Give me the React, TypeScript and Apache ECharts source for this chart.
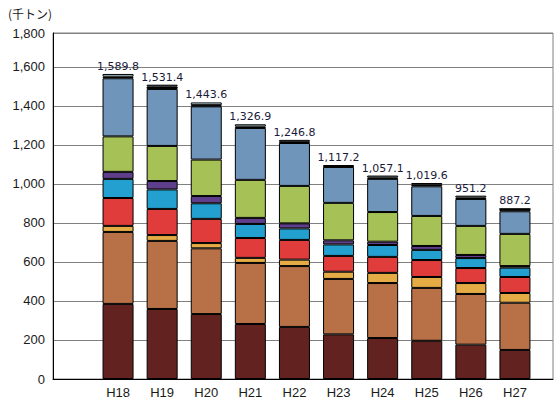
import React, { useEffect, useRef } from "react";
import * as echarts from "echarts";

const categories = ["H18", "H19", "H20", "H21", "H22", "H23", "H24", "H25", "H26", "H27"];
const totals = [1589.8, 1531.4, 1443.6, 1326.9, 1246.8, 1117.2, 1057.1, 1019.6, 951.2, 887.2];
const yTickLabels = ["0", "200", "400", "600", "800", "1,000", "1,200", "1,400", "1,600", "1,800"];

const s1 = [385, 359, 333, 282, 267, 229, 210, 196, 176, 149];
const s2 = [369, 349, 337, 313, 312, 284, 282, 271, 260, 242];
const s3 = [31, 30, 27, 26, 33, 37, 52, 56, 56, 50];
const s4 = [143, 134, 124, 102, 101, 81, 82, 87, 77, 82];
const s5 = [98, 100, 80, 72, 59, 59, 61, 52, 51, 48];
const s6 = [36, 43, 37, 31, 26, 21, 17, 20, 16, 8];
const s7 = [182, 180, 187, 195, 192, 192, 152, 154, 149, 165];
const s8 = [298, 292, 273, 266, 220, 184, 170, 152, 138, 116];
const s9 = [8, 13, 6, 7, 6, 4, 7, 8, 7, 12];
const s10 = [14, 9, 14, 12, 10, 6, 10, 9, 10, 0];

const seriesList = [
  { name: "区分1", data: s1, color: "#622320" },
  { name: "区分2", data: s2, color: "#B87047" },
  { name: "区分3", data: s3, color: "#E5AC45" },
  { name: "区分4", data: s4, color: "#E03C3C" },
  { name: "区分5", data: s5, color: "#23A0CF" },
  { name: "区分6", data: s6, color: "#5F3F8C" },
  { name: "区分7", data: s7, color: "#A6C156" },
  { name: "区分8", data: s8, color: "#6F95BA" },
  { name: "区分9", data: s9, color: "#000000" },
  { name: "区分10", data: s10, color: "#C5E2EE" },
];

const FONT = "'Liberation Sans', Arial, sans-serif";

export default function App() {
  const ref = useRef<HTMLDivElement>(null);
  useEffect(() => {
    if (!ref.current) return;
    const chart = echarts.init(ref.current, null, { renderer: "svg" });
    const yMax = 1774;
    const fmtY = (v: number) => {
      if (v >= 1700) return yTickLabels[yTickLabels.length - 1];
      const idx = Math.round(v / 200);
      return yTickLabels[idx] ?? String(v);
    };
    const series: any[] = seriesList.map((s, i) => ({
      type: "bar",
      name: s.name,
      stack: "total",
      xAxisIndex: 1,
      yAxisIndex: 1,
      barWidth: 31,
      data: s.data,
      itemStyle: { color: s.color, borderColor: "#000", borderWidth: 1 },
      label:
        i === seriesList.length - 1
          ? {
              show: true,
              position: "top",
              distance: 2,
              fontFamily: "'DejaVu Sans', sans-serif",
              fontSize: 11,
              color: "#1a1a3a",
              formatter: (p: any) =>
                totals[p.dataIndex].toLocaleString("en-US", {
                  minimumFractionDigits: 1,
                  maximumFractionDigits: 1,
                }),
            }
          : { show: false },
    }));
    chart.setOption({
      animation: false,
      backgroundColor: "#fff",
      grid: [
        { left: 53, right: 7, top: 33, bottom: 31, show: true, borderColor: "#808080", borderWidth: 1 },
        { left: 96, right: 23, top: 33, bottom: 31 },
      ],
      graphic: [
        {
          type: "text",
          left: 8,
          top: 7,
          style: { text: "(千トン)", fontSize: 12, fontFamily: "'Noto Sans CJK JP', sans-serif", fill: "#1a1a1a" },
        },
        {
          type: "line",
          shape: { x1: 53, y1: 33.5, x2: 63, y2: 33.5 },
          style: { stroke: "#000", lineWidth: 1 },
        },
      ],
      xAxis: [
        {
          type: "category",
          gridIndex: 0,
          data: [""],
          axisLine: { show: true, lineStyle: { color: "#000", width: 1 } },
          axisTick: { show: false },
          axisLabel: { show: false },
          splitLine: { show: false },
        },
        {
          type: "category",
          gridIndex: 1,
          data: categories,
          axisLine: { show: false },
          axisTick: { show: false },
          axisLabel: { fontFamily: FONT, fontSize: 13, color: "#1a1a1a", margin: 7 },
        },
      ],
      yAxis: [
        {
          type: "value",
          gridIndex: 0,
          min: 0,
          max: yMax,
          interval: 200,
          axisLine: { show: true, lineStyle: { color: "#000", width: 1 } },
          axisTick: { show: false },
          axisLabel: { fontFamily: FONT, fontSize: 13, color: "#1a1a1a", margin: 8, formatter: fmtY },
          splitLine: { show: true, lineStyle: { color: "#808080", width: 1 } },
        },
        {
          type: "value",
          gridIndex: 1,
          min: 0,
          max: yMax,
          interval: 200,
          show: false,
          splitLine: { show: false },
        },
      ],
      series,
    });
    return () => chart.dispose();
  }, []);
  return (
    <div
      ref={ref}
      style={{ position: "fixed", left: 0, top: 0, width: 560, height: 410, background: "#fff" }}
    />
  );
}
